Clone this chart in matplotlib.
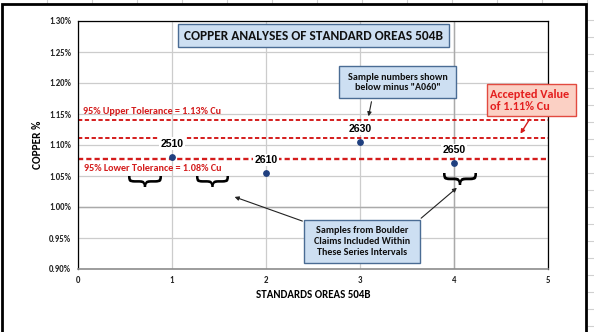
import matplotlib
matplotlib.use("Agg")
import matplotlib.pyplot as plt
from matplotlib.patches import Rectangle, FancyArrowPatch, PathPatch
from matplotlib.textpath import TextPath
from matplotlib.font_manager import FontProperties
from matplotlib.transforms import Affine2D

# ---- data ----
standards = [1, 2, 3, 4]
copper_pct = [1.081, 1.055, 1.105, 1.0705]
sample_labels = ["2510", "2610", "2630", "2650"]
upper_tol = 1.140
accepted = 1.111
lower_tol = 1.077
yticks = [0.90, 0.95, 1.00, 1.05, 1.10, 1.15, 1.20, 1.25, 1.30]
xticks = [0, 1, 2, 3, 4, 5]

plt.rcParams['font.family'] = ['Carlito', 'DejaVu Sans']

W, H = 594, 332
fig = plt.figure(figsize=(W / 100, H / 100), dpi=100)


def fx(px):
    return px / W


def fy(py):
    return 1 - py / H


ax = fig.add_axes([fx(78), fy(269), (548 - 78) / W, (269 - 21) / H])

# spreadsheet background lines outside the frame
for xv in range(47, 594, 45):
    fig.add_artist(plt.Line2D([fx(xv), fx(xv)], [fy(0), fy(4)], transform=fig.transFigure,
                              color='#d0d0d0', linewidth=0.8, zorder=0))
for yv in range(20, 332, 17):
    fig.add_artist(plt.Line2D([fx(588), fx(594)], [fy(yv), fy(yv)], transform=fig.transFigure,
                              color='#d0d0d0', linewidth=0.8, zorder=0))
# outer frame
fig.add_artist(Rectangle((fx(1.5), fy(340)), (586 - 1.5) / W, (340 - 4) / H, transform=fig.transFigure,
                         fill=False, edgecolor='black', linewidth=2.0, zorder=0))

ax.set_xlim(0, 5)
ax.set_ylim(0.90, 1.30)
ax.set_xticks(xticks)
ax.set_yticks(yticks)
ax.set_yticklabels([f"{v:.2f}%" for v in yticks])
ax.grid(True, color='#cccccc', linewidth=0.9)
ax.set_axisbelow(True)
ax.axhline(1.00, color='#aaaaaa', linewidth=1.0, zorder=1)
ax.axvline(4, color='#aaaaaa', linewidth=1.0, zorder=1)
for s in ['top', 'right', 'left']:
    ax.spines[s].set_color('black')
    ax.spines[s].set_linewidth(0.9)
ax.spines['bottom'].set_color('#8c8c8c')
ax.spines['bottom'].set_linewidth(1.2)
ax.tick_params(axis='both', labelsize=6.3, length=0, pad=5, labelcolor='#222222')
for lab in ax.get_xticklabels() + ax.get_yticklabels():
    lab.set_fontweight('bold')

ax.set_ylabel("COPPER %", fontsize=8.2, fontweight='bold')
ax.yaxis.set_label_coords((43 - 78) / 470, 0.5)
ax.set_xlabel("STANDARDS OREAS 504B", fontsize=7.8, fontweight='bold')
ax.xaxis.set_label_coords(0.5, -(289 - 269) / 248)

red = '#d41c1c'
for yv, lw in [(upper_tol, 1.4), (accepted, 1.4), (lower_tol, 1.7)]:
    ax.axhline(yv, color=red, linestyle=(0, (2.2, 1.3)), linewidth=lw, zorder=2)

ax.scatter(standards, copper_pct, s=15, color='#1f3f7f', zorder=4)

# point labels
for x, y, t in zip(standards, copper_pct, sample_labels):
    ax.annotate(t, (x, y), xytext=(0, 9.4), textcoords='offset points', ha='center', va='center',
                fontsize=7.6, fontweight='bold', family=['Liberation Sans'],
                bbox=dict(boxstyle='square,pad=0.12', facecolor='white', edgecolor='none'), zorder=5)

ax.annotate("95% Upper Tolerance = 1.13% Cu", (0.011, upper_tol), xycoords=('axes fraction', 'data'),
            xytext=(0, 6.5), textcoords='offset points', color=red, fontsize=7.3, fontweight='bold',
            va='center', ha='left')
ax.annotate("95% Lower Tolerance = 1.08% Cu", (0.013, lower_tol), xycoords=('axes fraction', 'data'),
            xytext=(0, -7), textcoords='offset points', color=red, fontsize=7.3, fontweight='bold',
            va='center', ha='left')


def box(x0, y0, x1, y1, fc, ec):
    fig.add_artist(Rectangle((fx(x0), fy(y1)), (x1 - x0) / W, (y1 - y0) / H, transform=fig.transFigure,
                             facecolor=fc, edgecolor=ec, linewidth=1.0, zorder=6))


def arrow(p0, p1, color='#222222', lw=0.8):
    fig.add_artist(FancyArrowPatch((fx(p0[0]), fy(p0[1])), (fx(p1[0]), fy(p1[1])), transform=fig.transFigure,
                                   arrowstyle='-|>', mutation_scale=6, color=color, linewidth=lw, zorder=6))


blue_fc, blue_ec = '#cddff2', '#4a6c94'

# title box
box(178, 24, 449, 47, blue_fc, blue_ec)
fig.text(fx(313.5), fy(36), "COPPER ANALYSES OF STANDARD OREAS 504B", ha='center', va='center',
         fontsize=9.6, fontweight='bold', color='#111111', zorder=7)

# sample note box
box(339, 66, 456, 98, blue_fc, blue_ec)
fig.text(fx(397.5), fy(82.5), 'Sample numbers shown\nbelow minus "A060"', ha='center', va='center',
         fontsize=7.2, fontweight='bold', color='#111111', linespacing=1.25, zorder=7)
arrow((372, 99), (368, 119))

# accepted value box
box(487, 84, 576, 116, '#fbd0c4', '#e24a40')
fig.text(fx(490), fy(100.5), 'Accepted Value\nof 1.11% Cu', ha='left', va='center',
         fontsize=8.8, fontweight='bold', color='#e41e1e', linespacing=1.0, zorder=7)
arrow((531, 117), (519, 136), color=red, lw=1.0)

# boulder claims box
box(304, 220, 420, 263, blue_fc, blue_ec)
fig.text(fx(362), fy(241.5), 'Samples from Boulder\nClaims Included Within\nThese Series Intervals',
         ha='center', va='center', fontsize=7.2, fontweight='bold', color='#111111', linespacing=1.25, zorder=7)
arrow((305, 222), (232, 196))
arrow((419, 220), (459, 186))

# braces marking series intervals (a "{" glyph turned to point down, fitted to a pixel box)
brace_path = Affine2D().rotate_deg(90).transform_path(
    TextPath((0, 0), "{", size=1, prop=FontProperties(family='DejaVu Sans', weight='normal')))
be = brace_path.get_extents()
for x0, x1, y0, y1 in [(128, 162, 176, 187), (196, 229, 176, 187), (443, 477, 173, 185)]:
    tr = (Affine2D().translate(-be.x0, -be.y0)
          .scale((x1 - x0) / be.width, (y1 - y0) / be.height)
          .translate(x0, H - y1).scale(1 / W, 1 / H) + fig.transFigure)
    fig.add_artist(PathPatch(brace_path, transform=tr, facecolor='black', edgecolor='none', zorder=5))

fig.savefig("out.png", dpi=100)
